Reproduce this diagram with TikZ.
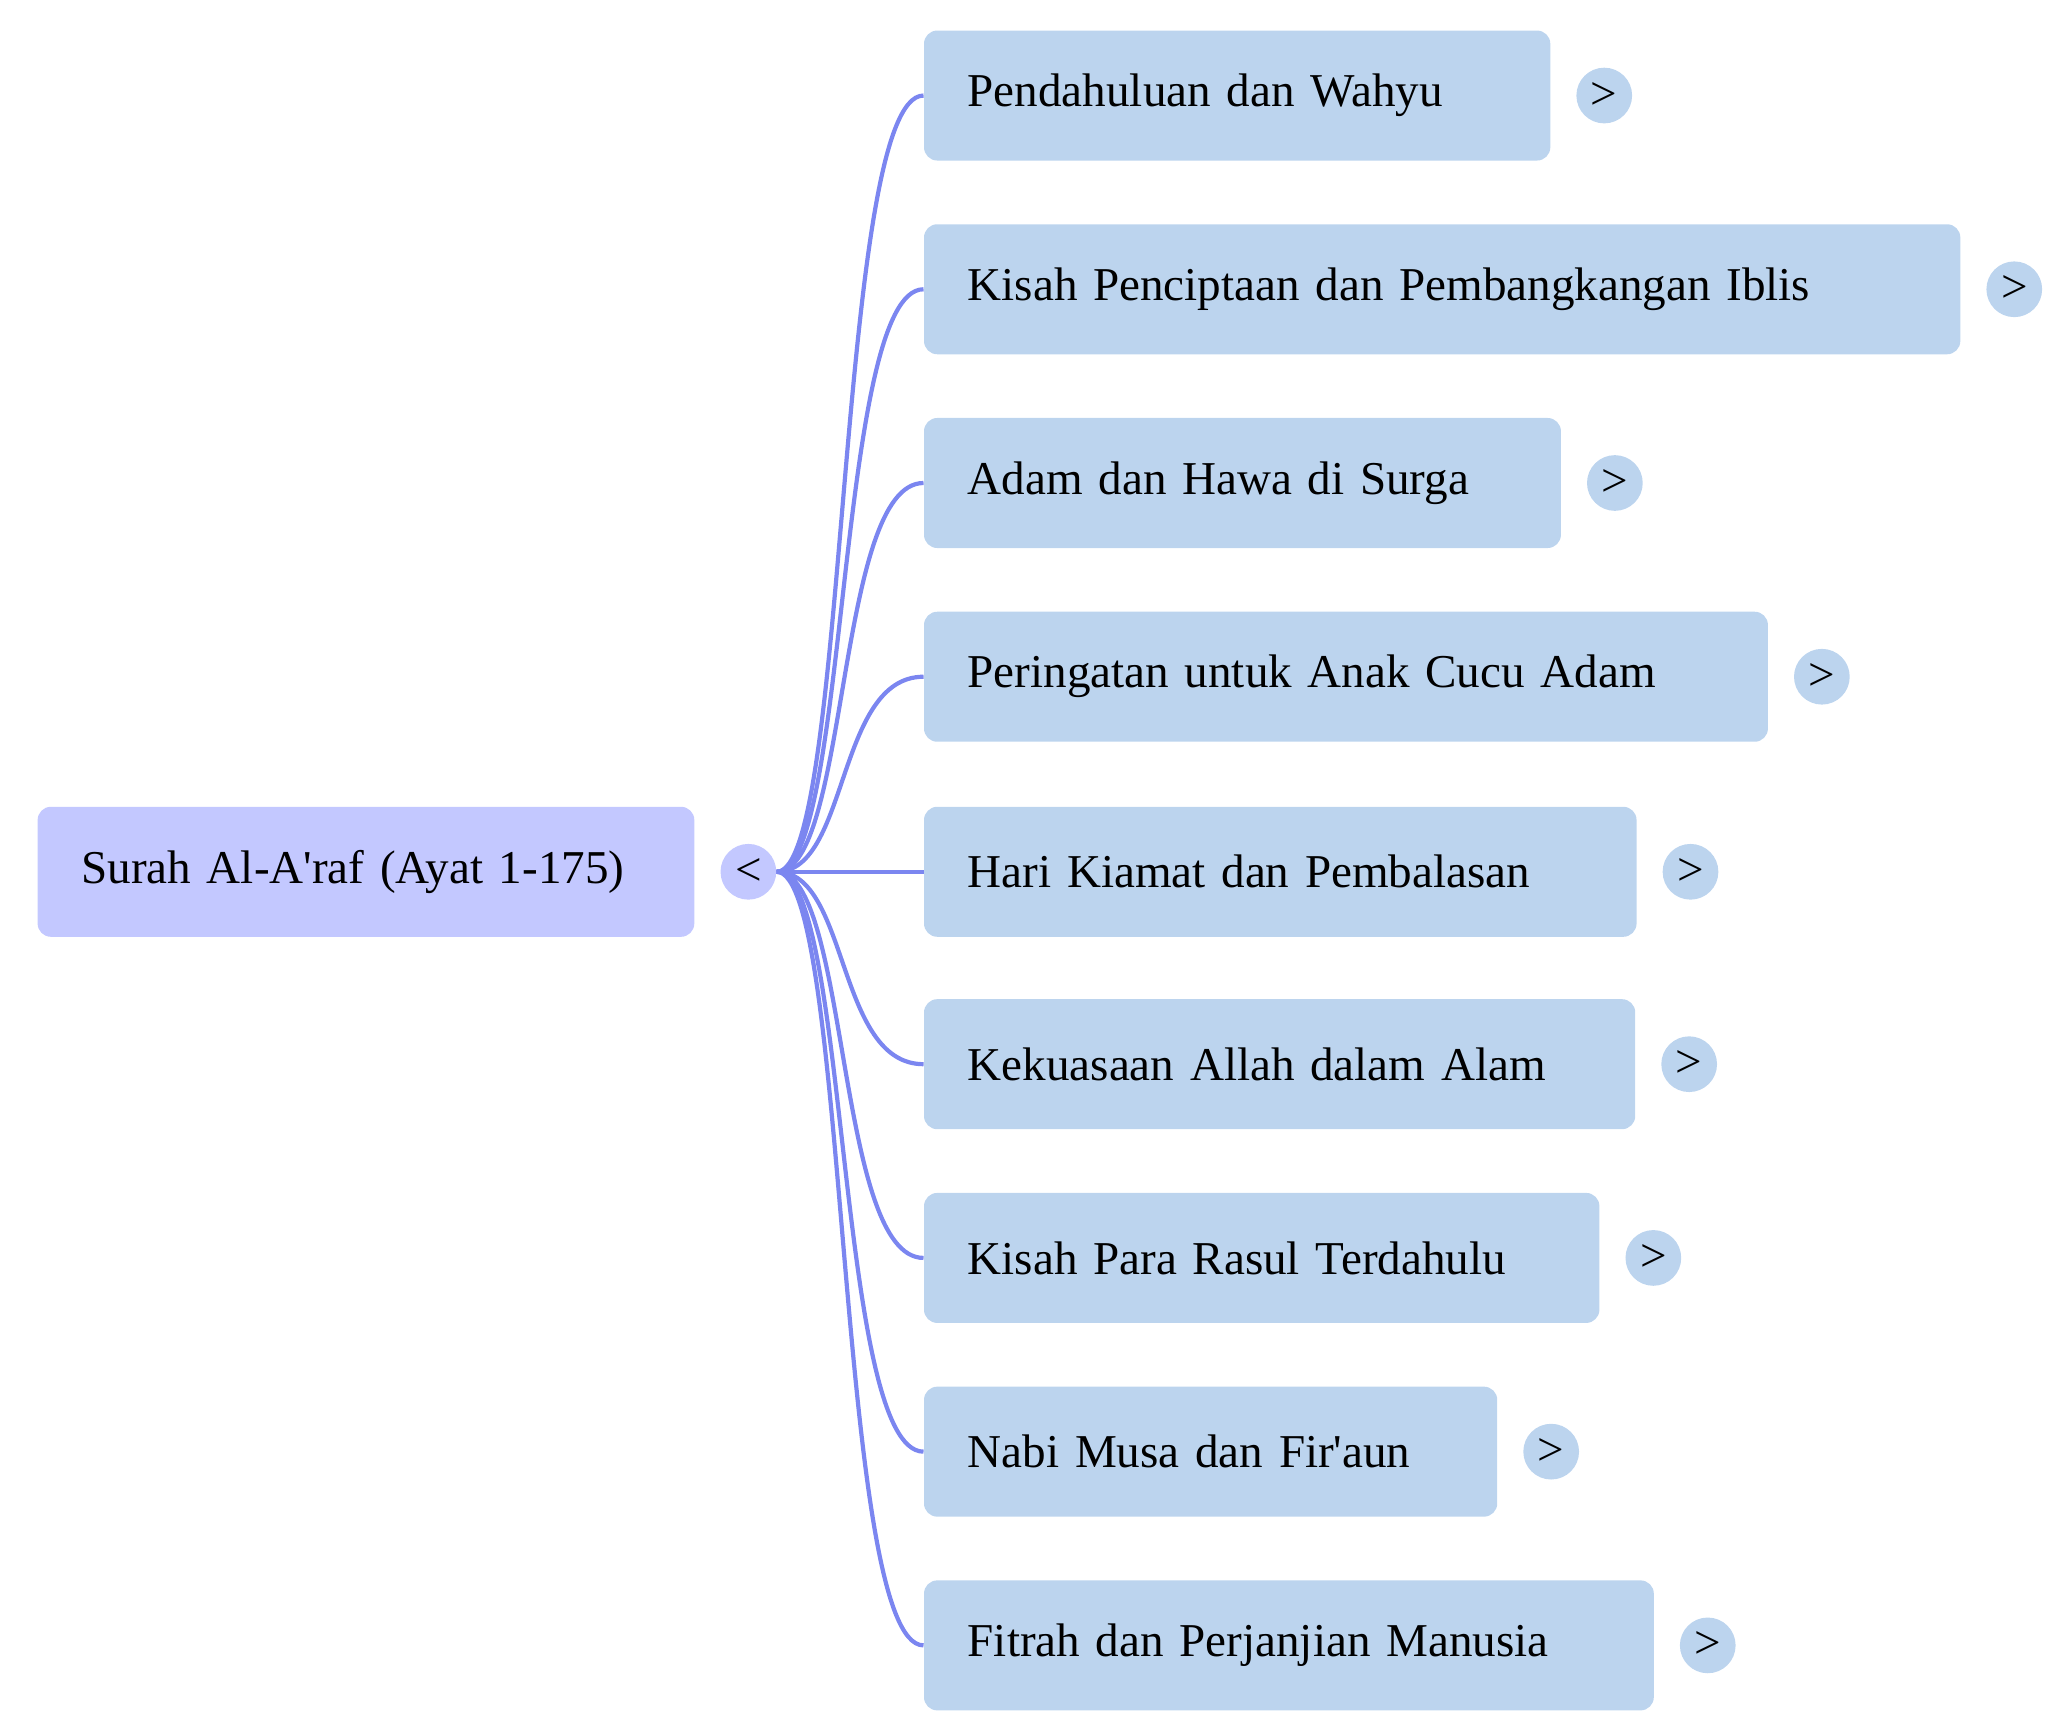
\documentclass[tikz,border=0pt]{standalone}
\usepackage{fontspec}
\setmainfont{Liberation Serif}
\definecolor{rootfill}{HTML}{C3C8FF}
\definecolor{childfill}{HTML}{BCD4EE}
\definecolor{edgeblue}{HTML}{7B86F0}
\tikzset{
  topic/.style={rectangle, rounded corners=0.2cm, draw=none, minimum height=1.96cm,
    inner xsep=0.66cm, align=left, anchor=west, font=\fontsize{20.2}{23}\selectfont},
  knob/.style={circle, minimum size=0.84cm, inner sep=0pt, font=\fontsize{20.2}{23}\selectfont},
  link/.style={edgeblue, line width=1.8pt}
}
\begin{document}
\begin{tikzpicture}[x=0.02cm, y=-0.02cm]
  \useasboundingbox (0,0) rectangle (1560,1308);
  \node[topic, fill=rootfill, text width=9.9cm-1.32cm] (root) at (28,657) {Surah Al-A\textquotesingle raf (Ayat 1-175)};
  \node[knob, fill=rootfill] (hub) at (564,657) {<};
  \foreach \i/\y/\r/\txt in {
    1/72/1168/Pendahuluan dan Wahyu,
    2/218/1477/Kisah Penciptaan dan Pembangkangan Iblis,
    3/364/1176/Adam dan Hawa di Surga,
    4/510/1332/Peringatan untuk Anak Cucu Adam,
    5/657/1233/Hari Kiamat dan Pembalasan,
    6/802/1232/Kekuasaan Allah dalam Alam,
    7/948/1205/Kisah Para Rasul Terdahulu,
    8/1094/1128/Nabi Musa dan Fir\textquotesingle aun,
    9/1240/1246/Fitrah dan Perjanjian Manusia} {
    \pgfmathsetlengthmacro{\tw}{(\r-696)*0.02cm-1.32cm}
    \node[topic, fill=childfill, text width=\tw] (c\i) at (696,\y) {\txt};
    \node[knob, fill=childfill] (k\i) at (\r+41,\y) {>};
    \draw[link] (hub.east) .. controls (640,657) and (630,\y) .. (c\i.west);
  }
\end{tikzpicture}
\end{document}
